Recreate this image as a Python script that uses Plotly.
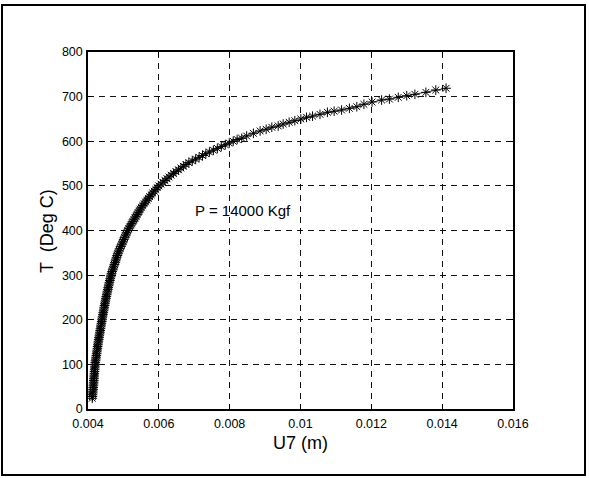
import plotly.graph_objects as go

# U7 displacement (m)
u7_m = [
    0.004120, 0.004125, 0.004129, 0.004134, 0.004138, 0.004143, 0.004148, 0.004152,
    0.004156, 0.004160, 0.004164, 0.004168, 0.004172, 0.004176, 0.004180, 0.004184,
    0.004188, 0.004192, 0.004196, 0.004200, 0.004207, 0.004214, 0.004222, 0.004229,
    0.004236, 0.004243, 0.004250, 0.004258, 0.004265, 0.004272, 0.004279, 0.004286,
    0.004294, 0.004303, 0.004311, 0.004320, 0.004328, 0.004336, 0.004345, 0.004353,
    0.004361, 0.004370, 0.004378, 0.004387, 0.004395, 0.004404, 0.004413, 0.004423,
    0.004432, 0.004441, 0.004450, 0.004459, 0.004469, 0.004478, 0.004487, 0.004496,
    0.004505, 0.004516, 0.004527, 0.004538, 0.004549, 0.004560, 0.004572, 0.004583,
    0.004594, 0.004605, 0.004616, 0.004628, 0.004639, 0.004650, 0.004666, 0.004682,
    0.004698, 0.004714, 0.004730, 0.004746, 0.004762, 0.004778, 0.004794, 0.004810,
    0.004826, 0.004842, 0.004861, 0.004882, 0.004904, 0.004926, 0.004947, 0.004969,
    0.004990, 0.005012, 0.005034, 0.005055, 0.005077, 0.005098, 0.005120, 0.005150,
    0.005179, 0.005209, 0.005238, 0.005268, 0.005298, 0.005327, 0.005357, 0.005386,
    0.005416, 0.005446, 0.005475, 0.005509, 0.005548, 0.005586, 0.005624, 0.005663,
    0.005701, 0.005741, 0.005784, 0.005827, 0.005870, 0.005914, 0.005957, 0.006000,
    0.006058, 0.006115, 0.006173, 0.006230, 0.006288, 0.006346, 0.006413, 0.006483,
    0.006554, 0.006624, 0.006694, 0.006765, 0.006848, 0.006944, 0.007040, 0.007136,
    0.007232, 0.007328, 0.007428, 0.007540, 0.007652, 0.007764, 0.007876, 0.007988,
    0.008100, 0.008212,
    0.00834, 0.00848, 0.00867, 0.00886, 0.00903, 0.00919, 0.00937, 0.00951,
    0.00968, 0.00984, 0.01001, 0.01017, 0.01034, 0.01055, 0.01076, 0.01095,
    0.01116, 0.01138, 0.01159, 0.01179, 0.01202, 0.01229, 0.01251, 0.01276,
    0.01300, 0.01323, 0.01354, 0.01382, 0.01411,
]

# Temperature (Deg C)
temp_c = [
    24, 28, 32, 36, 40, 44, 48, 52, 56, 60, 64, 68, 72, 76, 80, 84, 88, 92, 96, 100,
    104, 108, 112, 116, 120, 124, 128, 132, 136, 140, 144, 148, 152, 156, 160, 164,
    168, 172, 176, 180, 184, 188, 192, 196, 200, 204, 208, 212, 216, 220, 224, 228,
    232, 236, 240, 244, 248, 252, 256, 260, 264, 268, 272, 276, 280, 284, 288, 292,
    296, 300, 304, 308, 312, 316, 320, 324, 328, 332, 336, 340, 344, 348, 352, 356,
    360, 364, 368, 372, 376, 380, 384, 388, 392, 396, 400, 404, 408, 412, 416, 420,
    424, 428, 432, 436, 440, 444, 448, 452, 456, 460, 464, 468, 472, 476, 480, 484,
    488, 492, 496, 500, 504, 508, 512, 516, 520, 524, 528, 532, 536, 540, 544, 548,
    552, 556, 560, 564, 568, 572, 576, 580, 584, 588, 592, 596, 600, 604,
    606.6, 611.8, 617.8, 623.0, 626.8, 631.3, 634.2, 638.7,
    642.5, 646.1, 649.9, 653.7, 656.3, 660.4, 664.9, 667.3,
    670.0, 673.8, 677.4, 682.8, 688.0, 692.4, 694.5, 698.4,
    702.0, 705.2, 709.6, 714.8, 718.7,
]

x_ticks = [0.004, 0.006, 0.008, 0.010, 0.012, 0.014, 0.016]
x_tick_text = ["0.004", "0.006", "0.008", "0.01", "0.012", "0.014", "0.016"]
y_ticks = [0, 100, 200, 300, 400, 500, 600, 700, 800]

FONT = "Liberation Sans, Arial, sans-serif"

fig = go.Figure()
fig.add_trace(go.Scatter(
    x=u7_m, y=temp_c, mode="lines+markers",
    line=dict(color="black", width=0.8),
    marker=dict(symbol="asterisk-open", size=8, color="black",
                line=dict(color="black", width=1)),
    showlegend=False, hoverinfo="skip",
))

axis_common = dict(
    showgrid=True, gridcolor="#111", gridwidth=1, griddash="6px,5px",
    showline=True, linecolor="black", linewidth=1.5, mirror="ticks",
    ticks="inside", ticklen=5, tickcolor="black", tickwidth=1,
    zeroline=False, tickfont=dict(family=FONT, size=12.5, color="black"),
)

fig.update_xaxes(range=[0.004, 0.016], tickvals=x_ticks, ticktext=x_tick_text,
                 ticklabelstandoff=2, **axis_common)
fig.update_yaxes(range=[0, 800], tickvals=y_ticks, ticklabelstandoff=1, **axis_common)

L, R, T, B = 88, 513, 52, 409
W, H = 589, 478
pw, ph = R - L, B - T


def px_x(p):
    return (p - L) / pw


def px_y(p):
    return (B - p) / ph


fig.add_annotation(x=0.00697, y=445, xref="x", yref="y", text="P = 14000 Kgf",
                   showarrow=False, xanchor="left", yanchor="middle",
                   font=dict(family=FONT, size=15, color="black"))
fig.add_annotation(x=px_x(300.5), y=px_y(443), xref="paper", yref="paper",
                   text="U7 (m)", showarrow=False, xanchor="center", yanchor="middle",
                   font=dict(family=FONT, size=18, color="black"))
fig.add_annotation(x=px_x(47), y=px_y(231), xref="paper", yref="paper",
                   text="T  (Deg C)", showarrow=False, xanchor="center", yanchor="middle",
                   textangle=-90, font=dict(family=FONT, size=18, color="black"))

fig.add_shape(type="rect", xref="paper", yref="paper",
              x0=px_x(2), x1=px_x(585), y0=px_y(475), y1=px_y(5),
              line=dict(color="black", width=2), fillcolor="rgba(0,0,0,0)", layer="above")

fig.update_layout(
    width=W, height=H,
    margin=dict(l=L, r=W - R, t=T, b=H - B),
    paper_bgcolor="white", plot_bgcolor="white",
    font=dict(family=FONT, color="black"),
)

fig.write_html("out.html", config={"displayModeBar": False})
